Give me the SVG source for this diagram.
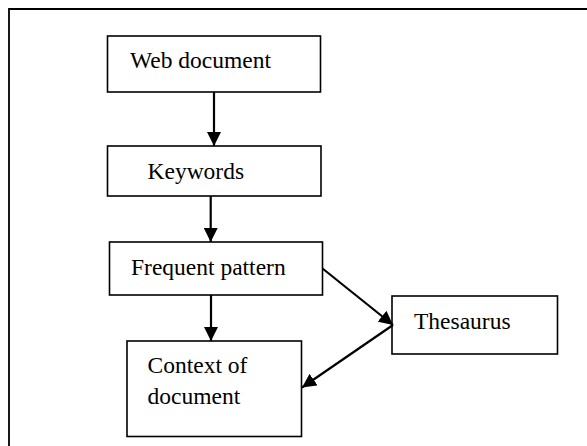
<svg xmlns="http://www.w3.org/2000/svg" width="587" height="446" viewBox="0 0 587 446">
<defs>
<style>
.box{fill:#fff;stroke:#000;stroke-width:1.6}
.lbl{font-family:"Liberation Serif","Times New Roman",serif;font-size:23.5px;fill:#000}
.con{stroke:#000;stroke-width:2.2;fill:none}
</style>
<marker id="ah" markerWidth="14" markerHeight="14" refX="14" refY="7" orient="auto" markerUnits="userSpaceOnUse">
<path d="M0,0 L14,7 L0,14 Z" fill="#000"/>
</marker>
</defs>
<rect width="587" height="446" fill="#fff"/>
<path d="M9,446 L9,9 L587,9" fill="none" stroke="#000" stroke-width="1.8"/>
<g id="web-document">
<rect class="box" x="107.5" y="36" width="213" height="56"/>
<text class="lbl" x="130" y="68">Web document</text>
</g>
<g id="keywords">
<rect class="box" x="107.5" y="146" width="213.5" height="50"/>
<text class="lbl" x="147.5" y="179">Keywords</text>
</g>
<g id="frequent-pattern">
<rect class="box" x="109.5" y="242" width="213" height="53"/>
<text class="lbl" x="131" y="275">Frequent pattern</text>
</g>
<g id="context-of-document">
<rect class="box" x="127" y="341" width="174.5" height="95.5"/>
<text class="lbl" x="147.5" y="373">Context of</text>
<text class="lbl" x="147.5" y="404">document</text>
</g>
<g id="thesaurus">
<rect class="box" x="392" y="296" width="165.5" height="58"/>
<text class="lbl" x="414" y="329">Thesaurus</text>
</g>
<g id="connectors">
<line class="con" x1="214" y1="92" x2="214" y2="146" marker-end="url(#ah)"/>
<line class="con" x1="210.7" y1="196" x2="210.7" y2="242" marker-end="url(#ah)"/>
<line class="con" x1="211" y1="295" x2="211" y2="341" marker-end="url(#ah)"/>
<line class="con" x1="322.5" y1="268.5" x2="393" y2="325" marker-end="url(#ah)"/>
<line class="con" x1="393" y1="325" x2="302" y2="387.5" marker-end="url(#ah)"/>
</g>
</svg>
